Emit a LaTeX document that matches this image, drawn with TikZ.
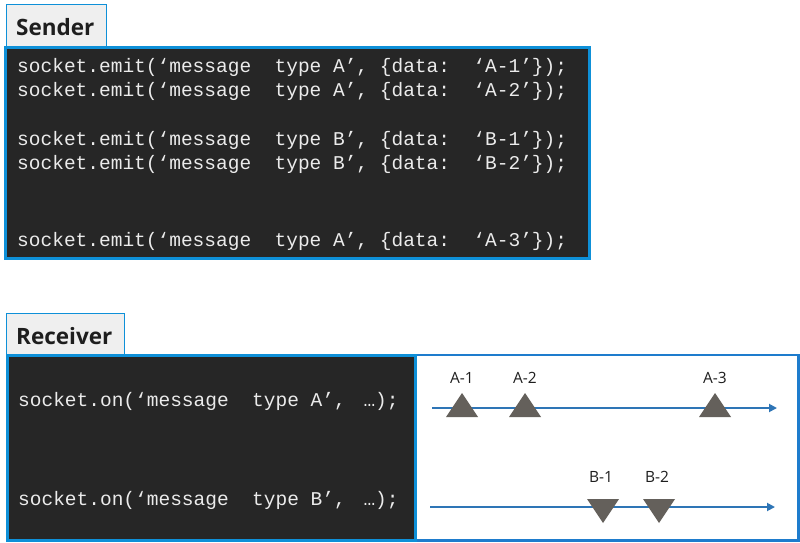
\documentclass[tikz,border=0pt]{standalone}
\usepackage{fontspec}
\setmainfont{Open Sans}
\setmonofont{Liberation Mono}
\usetikzlibrary{arrows.meta}
\definecolor{boxblue}{RGB}{14,144,216}
\definecolor{rblue}{RGB}{30,124,205}
\definecolor{codebg}{RGB}{38,38,38}
\definecolor{tabbg}{RGB}{239,239,239}
\definecolor{linecol}{RGB}{46,117,182}
\definecolor{trifill}{RGB}{100,96,91}
\definecolor{txt}{RGB}{30,30,30}
\tikzset{
  codetext/.style={anchor=base west, inner sep=0pt, text=white!92!black, font=\fontsize{19.5}{22}\ttfamily},
  tabnode/.style={draw=boxblue, line width=0.8pt, fill=tabbg, inner sep=0pt},
  tabtext/.style={anchor=base west, inner sep=0pt, text=txt, font=\fontsize{22.5}{26}\selectfont\bfseries},
  evlabel/.style={inner sep=0pt, text=txt, font=\fontsize{15.5}{17}\selectfont},
  timeline/.style={draw=linecol, line width=1.8pt, -{Triangle[length=8pt,width=8pt]}},
  uptri/.style={fill=trifill},
}
\newcommand{\dsp}{\ \ }
\begin{document}
\begin{tikzpicture}[x=1pt,y=-1pt]
\useasboundingbox (0,0) rectangle (800,543);
% Sender
\node[tabnode, minimum width=100pt, minimum height=42pt, anchor=north west] (stab) at (6,4) {};
\node[tabtext] (stabt) at (16,36) {Sender};
\draw[fill=codebg, draw=boxblue, line width=3pt] (5.5,47.5) rectangle (589.5,258);
\node[codetext] (s1) at (17,72) {socket.emit(‘message\dsp type A’, \{data:\dsp ‘A-1’\});};
\node[codetext] (s2) at (17,96) {socket.emit(‘message\dsp type A’, \{data:\dsp ‘A-2’\});};
\node[codetext] (s3) at (17,145) {socket.emit(‘message\dsp type B’, \{data:\dsp ‘B-1’\});};
\node[codetext] (s4) at (17,169) {socket.emit(‘message\dsp type B’, \{data:\dsp ‘B-2’\});};
\node[codetext] (s5) at (17,246) {socket.emit(‘message\dsp type A’, \{data:\dsp ‘A-3’\});};
% Receiver
\node[tabnode, minimum width=118pt, minimum height=41pt, anchor=north west] (rtab) at (6,313) {};
\node[tabtext] (rtabt) at (16,344) {Receiver};
\draw[fill=white, draw=rblue, line width=2.2pt] (416,355) rectangle (798.5,540.5);
\draw[fill=codebg, draw=boxblue, line width=3pt] (7.5,355.5) rectangle (415.5,540);
\node[codetext] (r1) at (18,406) {socket.on(‘message\dsp type A’,\hspace{6pt} …);};
\node[codetext] (r2) at (18,505) {socket.on(‘message\dsp type B’,\hspace{6pt} …);};
% timelines
\coordinate (ta0) at (432,408);
\coordinate (ta1) at (777,408);
\coordinate (tb0) at (430,507);
\coordinate (tb1) at (775,507);
\draw[timeline] (ta0) -- (ta1);
\draw[timeline] (tb0) -- (tb1);
\foreach \x/\n in {462/1,525/2,715/3}{
  \fill[uptri] (\x-16,417) -- (\x,393) -- (\x+16,417) -- cycle;
  \node[evlabel] (la\n) at (\x,378) {A-\n};
}
\foreach \x/\n in {603/1,659/2}{
  \fill[uptri] (\x-16,499) -- (\x,523) -- (\x+16,499) -- cycle;
  \node[evlabel] (lb\n) at (\x-2,477) {B-\n};
}
\end{tikzpicture}
\end{document}
